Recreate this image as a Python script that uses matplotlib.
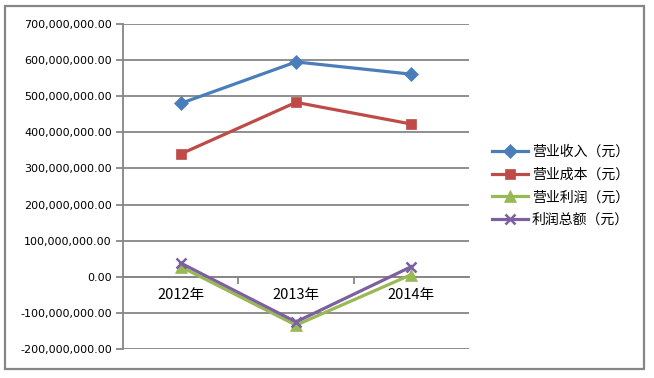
import matplotlib
matplotlib.use("Agg")
import matplotlib.pyplot as plt
from matplotlib.patches import Rectangle
from matplotlib.ticker import FuncFormatter, FixedLocator, NullFormatter

categories = ["2012年", "2013年", "2014年"]
revenue = [480e6, 595e6, 561e6]
cost = [340e6, 483e6, 423e6]
op_profit = [28e6, -134e6, 6e6]
total_profit = [38e6, -125e6, 28e6]
series_names = ["营业收入（元）", "营业成本（元）", "营业利润（元）", "利润总额（元）"]

W, H = 654, 378
fig = plt.figure(figsize=(W / 100, H / 100), dpi=100)
fig.patch.set_facecolor("white")

def px(x0, y0, x1, y1):
    return [x0 / W, 1 - y1 / H, (x1 - x0) / W, (y1 - y0) / H]

ax = fig.add_axes(px(123, 24, 469, 349))
cjk = ["Noto Sans CJK SC", "DejaVu Sans"]
grid_c = "#868686"

x = list(range(len(categories)))
styles = [
    (revenue, "#4A7EBB", "D", 7),
    (cost, "#BE4B48", "s", 7.5),
    (op_profit, "#98B954", "^", 8),
    (total_profit, "#7D60A0", "x", 7),
]
lines = []
for (vals, c, m, ms), name in zip(styles, series_names):
    ln, = ax.plot(x, vals, color=c, lw=2.3, marker=m, markersize=ms,
                  markeredgecolor=c, markerfacecolor=c,
                  markeredgewidth=1.8 if m == "x" else 0.5, label=name, zorder=3)
    lines.append(ln)

ax.set_xlim(-0.5, 2.5)
ax.set_ylim(-200e6, 700e6)
ax.set_yticks([i * 100e6 for i in range(-2, 8)])
ax.yaxis.set_major_formatter(FuncFormatter(lambda v, p: f"{v:,.2f}"))
ax.grid(axis="y", color=grid_c, lw=1.3, zorder=0)
ax.set_axisbelow(True)

for s in ["top", "right"]:
    ax.spines[s].set_visible(False)
ax.spines["left"].set_color(grid_c)
ax.spines["left"].set_linewidth(1.3)
ax.spines["bottom"].set_position(("data", 0))
ax.spines["bottom"].set_color(grid_c)
ax.spines["bottom"].set_linewidth(1.3)

ax.tick_params(axis="y", length=5, width=1.3, color=grid_c, labelsize=8, pad=3)
for t in ax.get_yticklabels():
    t.set_family("DejaVu Sans")

ax.xaxis.set_major_locator(FixedLocator([0.5, 1.5]))
ax.xaxis.set_major_formatter(NullFormatter())
ax.xaxis.set_minor_locator(FixedLocator(x))
ax.set_xticklabels(categories, minor=True)
ax.tick_params(axis="x", which="major", length=5, width=1.3, color=grid_c, direction="out")
ax.tick_params(axis="x", which="minor", length=0, pad=8, labelsize=10.5)
for t in ax.get_xticklabels(minor=True):
    t.set_family(cjk)

leg = fig.legend(handles=lines, loc="center left", bbox_to_anchor=(486 / W, 1 - 186 / H),
                 frameon=False, prop={"family": cjk, "size": 10},
                 handlelength=2.6, handletextpad=0.3, labelspacing=0.62, borderaxespad=0)

fig.patches.append(Rectangle((5 / W, 1 - 369 / H), 639 / W, 363 / H, transform=fig.transFigure,
                             fill=False, edgecolor=grid_c, lw=1.6))

fig.savefig("out.png", dpi=100)
